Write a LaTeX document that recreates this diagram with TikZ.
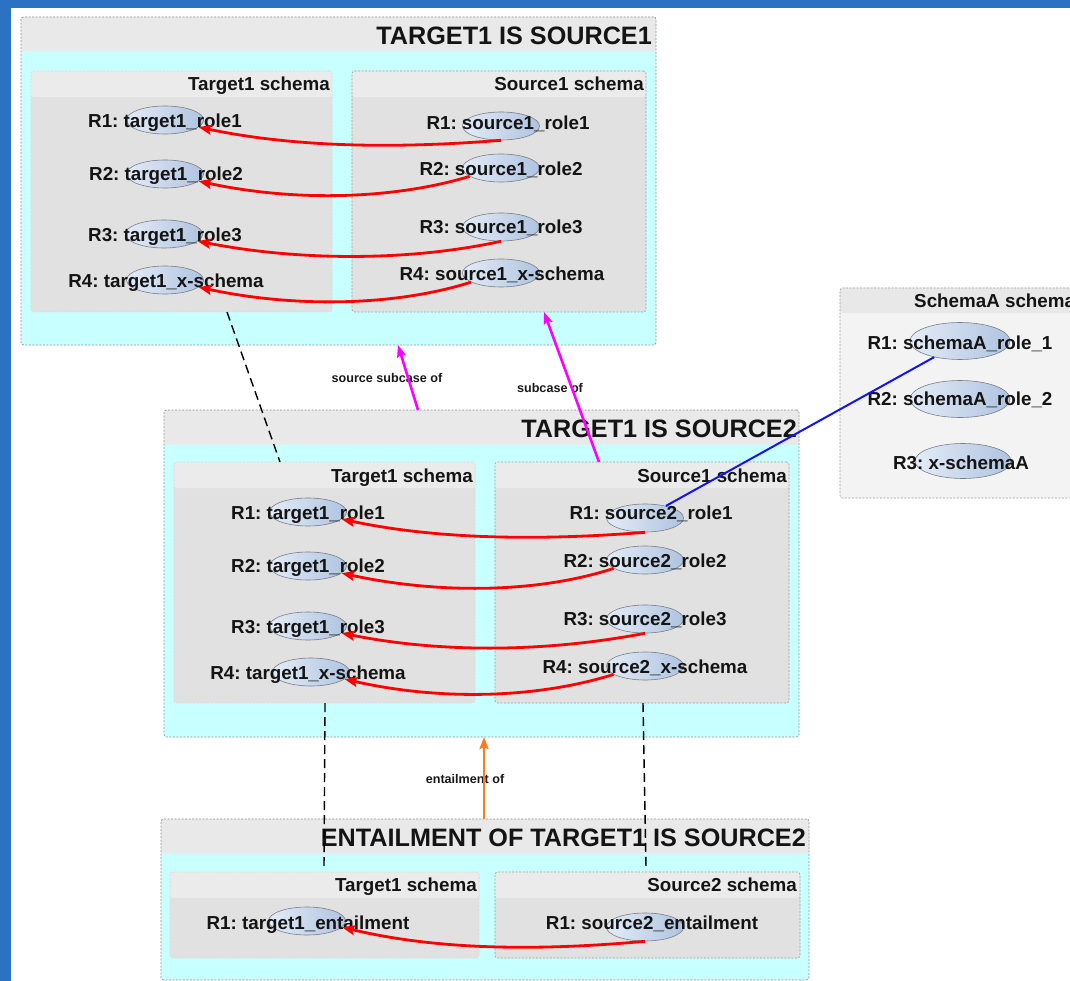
\documentclass[tikz,border=0pt]{standalone}
\usepackage{fontspec}
\setmainfont{Liberation Sans}
\usetikzlibrary{shapes.geometric,arrows.meta}

\definecolor{pageblue}{HTML}{2B72C3}
\definecolor{framecyan}{HTML}{C8FFFF}
\definecolor{framehead}{HTML}{E9E9E9}
\definecolor{schemahead}{HTML}{EBEBEB}
\definecolor{schemabody}{HTML}{E1E1E1}
\definecolor{lighthead}{HTML}{E8E8E8}
\definecolor{lightbody}{HTML}{F3F3F3}
\definecolor{roleleft}{HTML}{E4ECF7}
\definecolor{roleright}{HTML}{AFC3E0}
\definecolor{roleedge}{HTML}{7A7F88}
\definecolor{linkred}{HTML}{FF0000}
\definecolor{linkmagenta}{HTML}{FF00FF}
\definecolor{linkorange}{HTML}{FF7A1A}
\definecolor{linkblue}{HTML}{1414F0}

\tikzset{
  headed/.style 2 args={inner sep=0pt, outer sep=0pt, anchor=north west, rounded corners=2.5pt,
    path picture={\fill[#1] (path picture bounding box.north west) rectangle
      ([yshift=-#2]path picture bounding box.north east);}},
  frame/.style={headed={framehead}{34.5pt}, fill=framecyan, draw=gray!85,
    dash pattern=on 2pt off 1.5pt, line width=0.7pt},
  srcbox/.style={headed={schemahead}{26pt}, fill=schemabody, draw=gray!75,
    dash pattern=on 2pt off 1.5pt, line width=0.6pt},
  tgtbox/.style={srcbox, draw=gray!30},
  plainbox/.style={headed={lighthead}{25pt}, fill=lightbody, draw=gray!75,
    dash pattern=on 2pt off 1.5pt, line width=0.6pt},
  titletext/.style={inner sep=0pt, anchor=east, text=black!92,
    font=\fontsize{25.2}{26}\selectfont\bfseries, text height=18pt, text depth=0pt},
  headtext/.style={inner sep=0pt, anchor=east, text=black!92,
    font=\fontsize{18.8}{20}\selectfont\bfseries, text height=13.5pt, text depth=0pt},
  roletext/.style={inner sep=0pt, text=black!92,
    font=\fontsize{18.8}{20}\selectfont\bfseries, text height=13.5pt, text depth=0pt},
  roleoval/.style={ellipse, draw=roleedge, line width=0.6pt, left color=roleleft,
    right color=roleright, minimum width=77pt, minimum height=28pt, inner sep=0pt},
  bigoval/.style={roleoval, minimum width=100pt, minimum height=37pt},
  linktext/.style={inner sep=0pt, text=black!90, font=\fontsize{12.6}{14}\selectfont\bfseries},
  mapping/.style={draw=linkred, line width=2.8pt, -{Stealth[length=13pt,width=10pt,inset=2.5pt]}},
  samerole/.style={draw=black, line width=1.4pt, dash pattern=on 9pt off 5pt},
  subcase/.style={draw=linkmagenta, line width=2.6pt, -{Stealth[length=12pt,width=9pt,inset=2pt]}},
  entail/.style={draw=linkorange, line width=2.6pt, -{Stealth[length=12pt,width=9pt,inset=2pt]}},
  bind/.style={draw=linkblue, line width=2pt}
}

\begin{document}
\frenchspacing
\begin{tikzpicture}[x=1pt,y=-1pt]
\useasboundingbox (0,0) rectangle (1070,981);
\clip (0,0) rectangle (1070,981);
\fill[white] (0,0) rectangle (1070,981);
\fill[pageblue] (0,0) rectangle (1070,8);
\fill[pageblue] (0,0) rectangle (11,981);

% ---------- TARGET1 IS SOURCE1 ----------
\node[frame, minimum width=635pt, minimum height=328pt] (f1) at (21,17) {};
\node[tgtbox, minimum width=301pt, minimum height=241pt] (f1t) at (31,71) {};
\node[srcbox, minimum width=294pt, minimum height=241pt] (f1s) at (352,71) {};
\node[titletext] (f1title) at (652,36) {TARGET1 IS SOURCE1};
\node[headtext] (f1th) at (330,84) {Target1 schema};
\node[headtext] (f1sh) at (644,84) {Source1 schema};

\node[roleoval] (t1a) at (165,120) {};
\node[roleoval] (t1b) at (165,174) {};
\node[roleoval] (t1c) at (164,234) {};
\node[roleoval] (t1d) at (165,280) {};
\node[roletext] (t1al) at (165,121) {R1: target1\_role1};
\node[roletext] (t1bl) at (166,174) {R2: target1\_role2};
\node[roletext] (t1cl) at (165,235) {R3: target1\_role3};
\node[roletext] (t1dl) at (166,281) {R4: target1\_x-schema};

\node[roleoval] (s1a) at (501,126) {};
\node[roleoval] (s1b) at (501,168) {};
\node[roleoval] (s1c) at (501,227) {};
\node[roleoval] (s1d) at (501,273) {};
\node[roletext] (s1al) at (508,123) {R1: source1\_role1};
\node[roletext] (s1bl) at (501,169) {R2: source1\_role2};
\node[roletext] (s1cl) at (501,227) {R3: source1\_role3};
\node[roletext] (s1dl) at (502,274) {R4: source1\_x-schema};

% ---------- TARGET1 IS SOURCE2 ----------
\node[frame, minimum width=635pt, minimum height=327pt] (f2) at (164,410) {};
\node[tgtbox, minimum width=301pt, minimum height=241pt] (f2t) at (174,462) {};
\node[srcbox, minimum width=294pt, minimum height=241pt] (f2s) at (495,462) {};
\node[titletext] (f2title) at (797,428) {TARGET1 IS SOURCE2};
\node[headtext] (f2th) at (473,476) {Target1 schema};
\node[headtext] (f2sh) at (787,476) {Source1 schema};

\node[roleoval] (t2a) at (308,512) {};
\node[roleoval] (t2b) at (308,566) {};
\node[roleoval] (t2c) at (308,626) {};
\node[roleoval] (t2d) at (311,672) {};
\node[roletext] (t2al) at (308,513) {R1: target1\_role1};
\node[roletext] (t2bl) at (308,566) {R2: target1\_role2};
\node[roletext] (t2cl) at (308,627) {R3: target1\_role3};
\node[roletext] (t2dl) at (308,673) {R4: target1\_x-schema};

\node[roleoval] (s2a) at (645,518) {};
\node[roleoval] (s2b) at (645,560) {};
\node[roleoval] (s2c) at (645,619) {};
\node[roleoval] (s2d) at (645,666) {};
\node[roletext] (s2al) at (651,513) {R1: source2\_role1};
\node[roletext] (s2bl) at (645,561) {R2: source2\_role2};
\node[roletext] (s2cl) at (645,619) {R3: source2\_role3};
\node[roletext] (s2dl) at (645,667) {R4: source2\_x-schema};

% ---------- ENTAILMENT OF TARGET1 IS SOURCE2 ----------
\node[frame, minimum width=648pt, minimum height=161pt] (f3) at (161,819) {};
\node[tgtbox, minimum width=309pt, minimum height=86pt] (f3t) at (170,872) {};
\node[srcbox, minimum width=305pt, minimum height=86pt] (f3s) at (495,872) {};
\node[titletext] (f3title) at (806,837) {ENTAILMENT OF TARGET1 IS SOURCE2};
\node[headtext] (f3th) at (477,885) {Target1 schema};
\node[headtext] (f3sh) at (797,885) {Source2 schema};

\node[roleoval] (t3a) at (307,921) {};
\node[roletext] (t3al) at (308,923) {R1: target1\_entailment};
\node[roleoval] (s3a) at (645,927) {};
\node[roletext] (s3al) at (652,923) {R1: source2\_entailment};

% ---------- SchemaA schema ----------
\node[plainbox, minimum width=245pt, minimum height=210pt] (sa) at (840,288) {};
\node[headtext, anchor=west] (sah) at (914,301) {SchemaA schema};
\node[bigoval] (a1) at (960,341) {};
\node[bigoval] (a2) at (960,399) {};
\node[bigoval, minimum width=96pt, minimum height=35pt] (a3) at (963,461) {};
\node[roletext] (a1l) at (960,343) {R1: schemaA\_role\_1};
\node[roletext] (a2l) at (960,399) {R2: schemaA\_role\_2};
\node[roletext] (a3l) at (961,463) {R3: x-schemaA};

% ---------- relation labels ----------
\node[linktext] (lsrc) at (387,378) {source subcase of};
\node[linktext] (lsub) at (550,388) {subcase of};
\node[linktext] (lent) at (465,779) {entailment of};

% ---------- shared-schema links ----------
\draw[samerole] ([xshift=196pt]f1t.south west) -- ([xshift=106pt]f2t.north west);
\draw[samerole] ([xshift=151pt]f2t.south west) -- ([xshift=154pt,yshift=4pt]f3t.north west);
\draw[samerole] ([xshift=148pt]f2s.south west) -- ([xshift=151pt,yshift=4pt]f3s.north west);

% ---------- frame relations ----------
\draw[subcase] ([xshift=254pt]f2.north west) -- ([xshift=377pt]f1.south west);
\draw[subcase] ([xshift=104pt]f2s.north west) -- ([xshift=192pt]f1s.south west);
\draw[entail] ([xshift=323pt]f3.north west) -- ([xshift=320pt]f2.south west);

% ---------- role mappings ----------
\draw[mapping] (s1a.south) .. controls +(-100,8) and +(100,21) .. (t1a.-12);
\draw[mapping] (s1b.195) .. controls +(-80,24) and +(92,20) .. (t1b.-12);
\draw[mapping] (s1c.south) .. controls +(-92,20) and +(102,20) .. (t1c.-12);
\draw[mapping] (s1d.197) .. controls +(-79,25) and +(92,20) .. (t1d.-12);

\draw[mapping] (s2a.south) .. controls +(-100,8) and +(99,21) .. (t2a.-12);
\draw[mapping] (s2b.195) .. controls +(-80,26) and +(92,20) .. (t2b.-12);
\draw[mapping] (s2c.south) .. controls +(-100,19) and +(100,20) .. (t2c.-12);
\draw[mapping] (s2d.195) .. controls +(-80,25) and +(92,21) .. (t2d.-12);

\draw[mapping] (s3a.south) .. controls +(-100,9) and +(100,24) .. (t3a.-10);

% ---------- role binding ----------
\draw[bind] (a1.212) -- (s2a.30);
\end{tikzpicture}
\end{document}
